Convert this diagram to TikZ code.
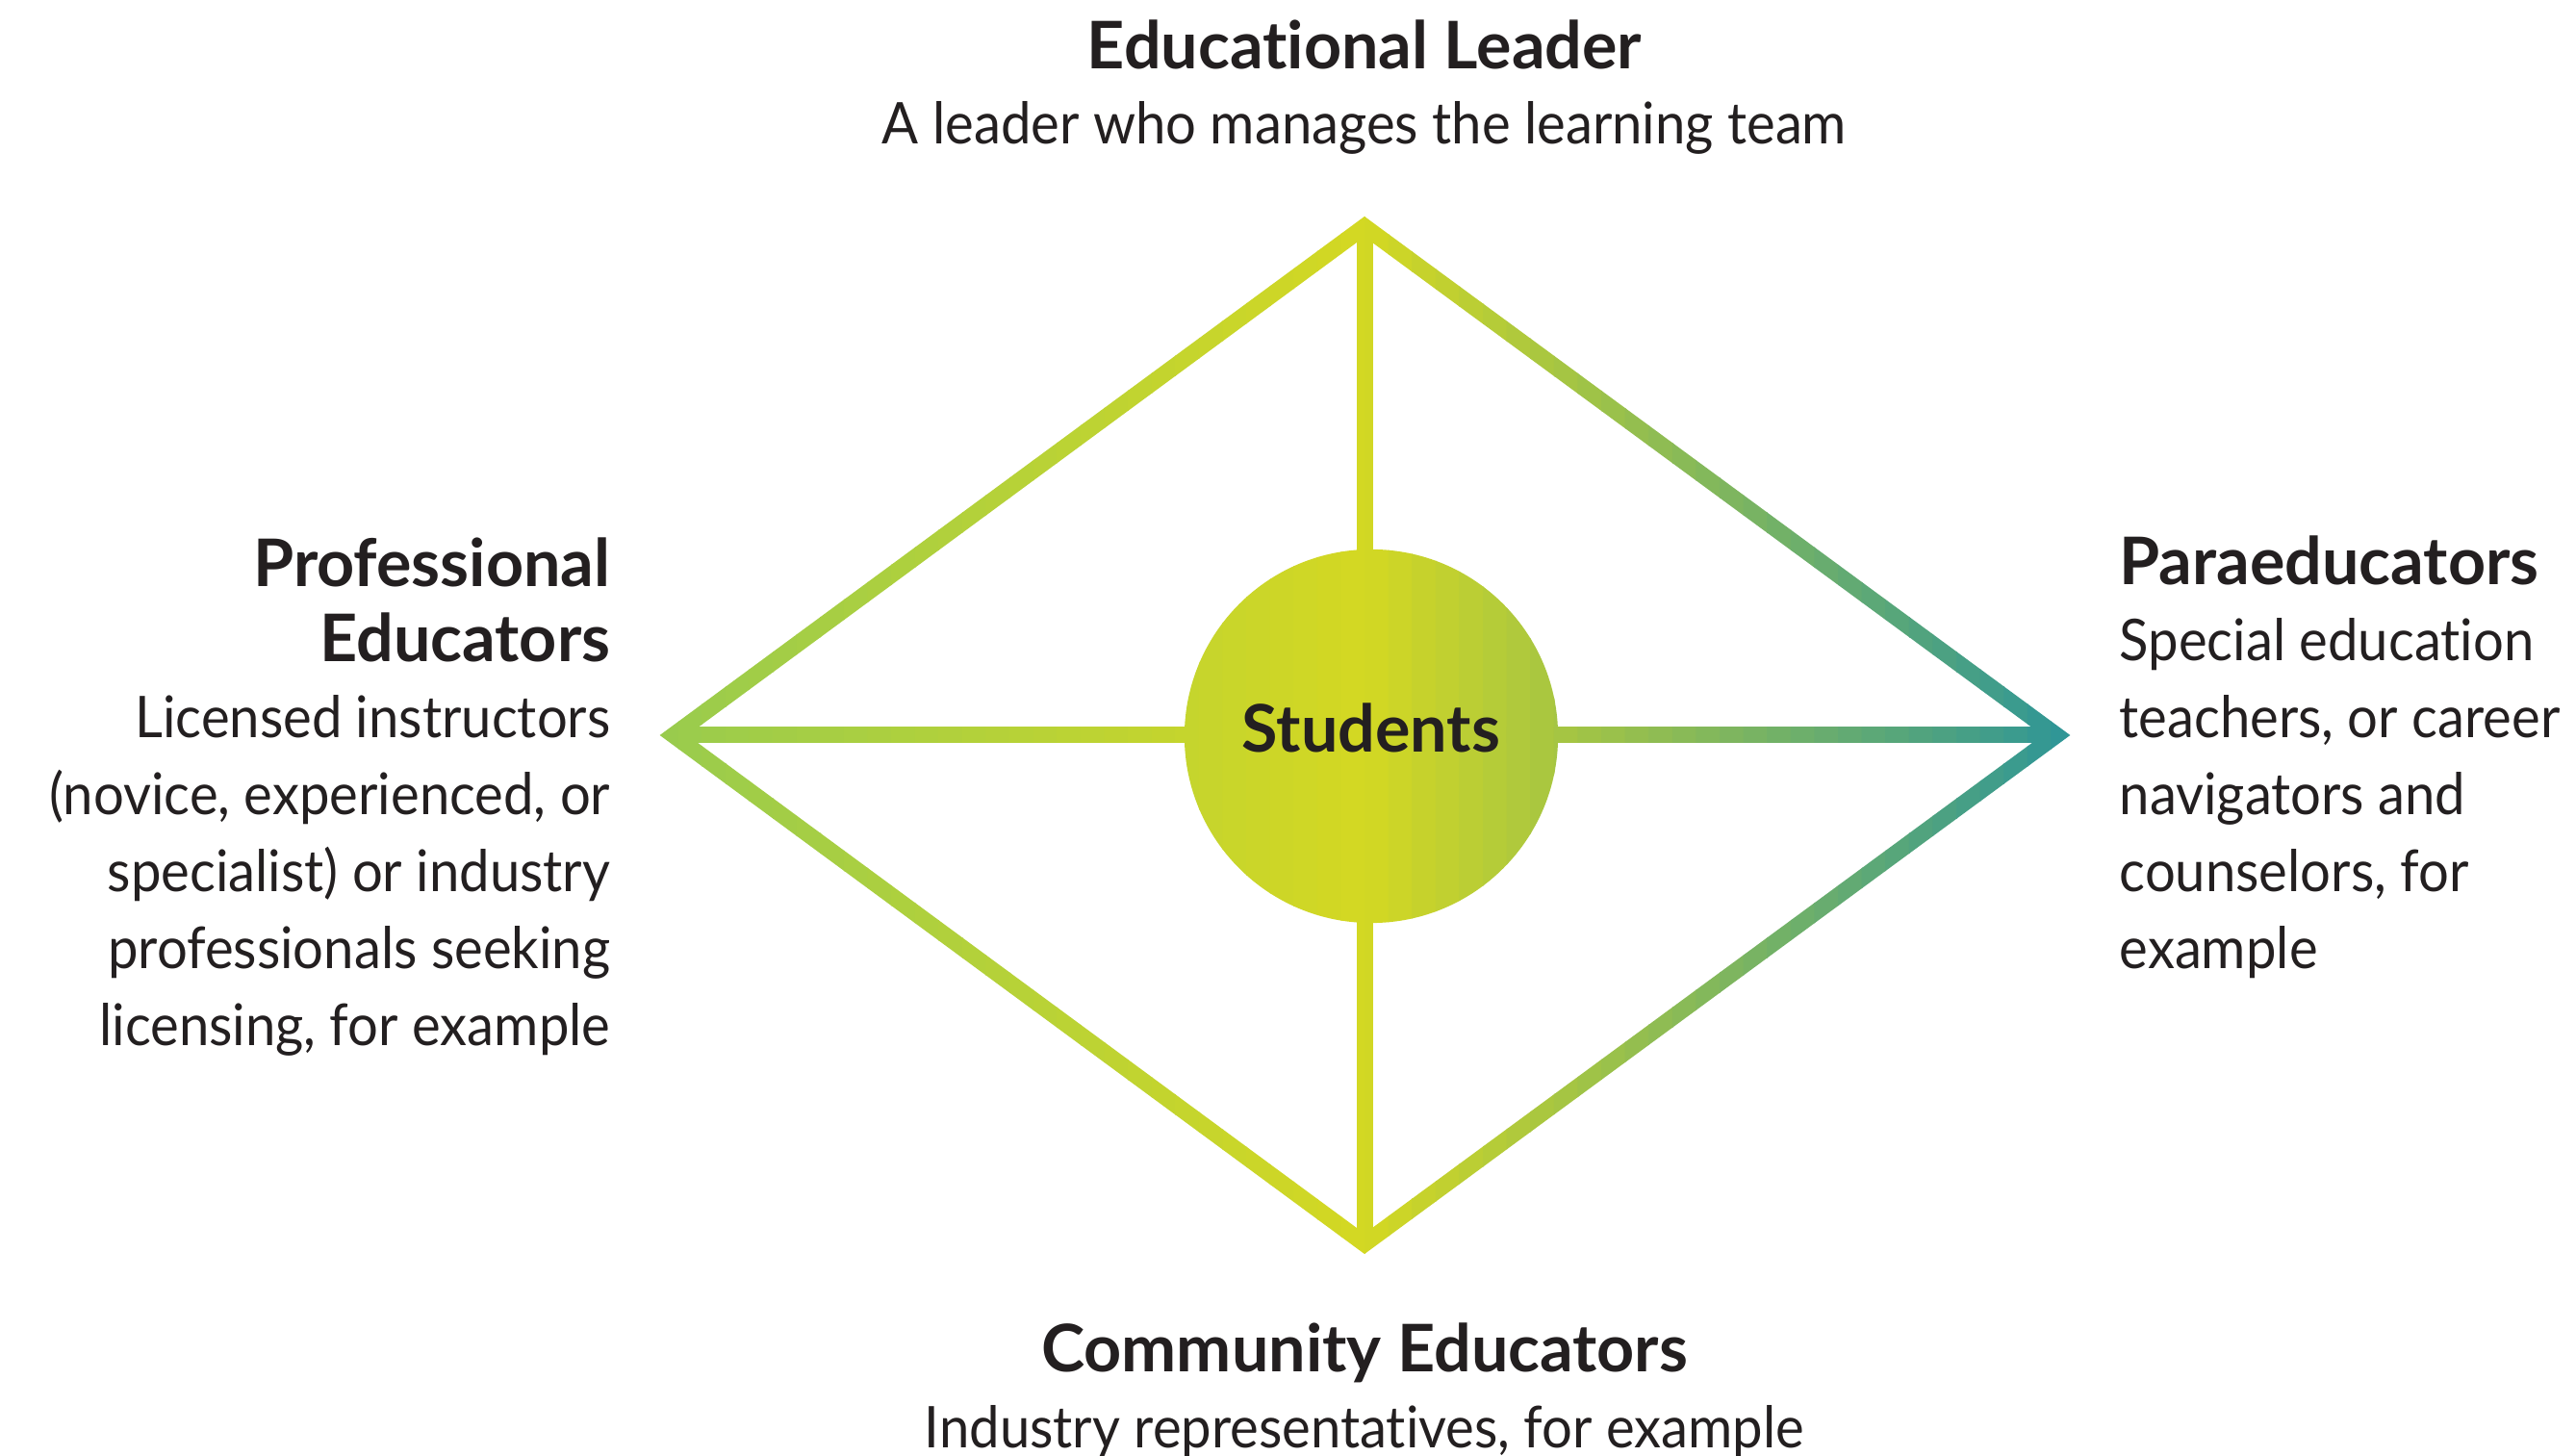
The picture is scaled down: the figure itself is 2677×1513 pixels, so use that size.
\documentclass[tikz,border=0pt]{standalone}
\usepackage{fontspec}
\setmainfont{Lato}[Ligatures={NoCommon}]
\newfontfamily\bodyfont{Lato}[FakeStretch=0.94, Ligatures={NoCommon}]
\usetikzlibrary{positioning}

\definecolor{ink}{RGB}{35,31,32}
\definecolor{gradL}{RGB}{152,203,78}
\definecolor{gradM}{RGB}{212,216,34}
\definecolor{gradR}{RGB}{45,149,152}

\tikzset{
  edge/.style={line width=0.17cm, line join=miter},
  head/.style={font=\fontsize{19.4}{22.4}\selectfont\bfseries, text=ink, inner sep=0pt},
  body/.style={font=\bodyfont\fontsize{17}{22.76}\selectfont, text=ink, inner sep=0pt},
}

\begin{document}
\begin{tikzpicture}[x=0.01cm, y=-0.01cm]
    \useasboundingbox (0,0) rectangle (2677,1513);

    % Corners of the diamond and the hub
    \coordinate (top) at (1418,235.5);
    \coordinate (right) at (2137,764);
    \coordinate (bottom) at (1418,1292.5);
    \coordinate (left) at (700,764);
    \coordinate (hubc) at (1425,765);

    % Diamond, cross and hub in thin vertical slices (left to right gradient)
    \foreach \i in {0,...,59}{
      \pgfmathsetmacro{\xa}{680+\i*24.6}
      \pgfmathsetmacro{\xb}{\xa+25.6}
      \ifnum\i<30
        \pgfmathsetmacro{\p}{(\i+0.5)*100/30}
        \colorlet{strip}{gradM!\p!gradL}
      \else
        \pgfmathsetmacro{\p}{(\i-29.5)*100/30}
        \colorlet{strip}{gradR!\p!gradM}
      \fi
      \begin{scope}
        \clip (\xa,200) rectangle (\xb,1330);
        \draw[edge, strip] (top) -- (right) -- (bottom) -- (left) -- cycle;
        \draw[edge, strip] (top) -- (bottom);
        \draw[edge, strip] (left) -- (right);
        \fill[strip] (hubc) circle [radius=1.94cm];
      \end{scope}
    }

    % Hub label
    \node[head, anchor=base] (hub) at (1425,782) {Students};

    % Roles (multi-line nodes sit on their last baseline)
    \node[head, anchor=base] (leadT) at (1418,72) {Educational Leader};
    \node[body, anchor=base] (leadD) at (1418,150) {A leader who manages the learning team};

    \node[head, anchor=base east, align=right] (profT) at (635,688) {Professional\\Educators};
    \node[body, anchor=base east, align=right] (profD) at (635,1087)
      {Licensed instructors\\(novice, experienced, or\\specialist) or industry\\professionals seeking\\licensing, for example};

    \node[head, anchor=base west] (paraT) at (2202,608) {Paraeducators};
    \node[body, anchor=base west, align=left] (paraD) at (2202,1007)
      {Special education\\teachers, or career\\navigators and\\counselors, for\\example};

    \node[head, anchor=base] (commT) at (1418,1426) {Community Educators};
    \node[body, anchor=base] (commD) at (1418,1505) {Industry representatives, for example};
\end{tikzpicture}
\end{document}
